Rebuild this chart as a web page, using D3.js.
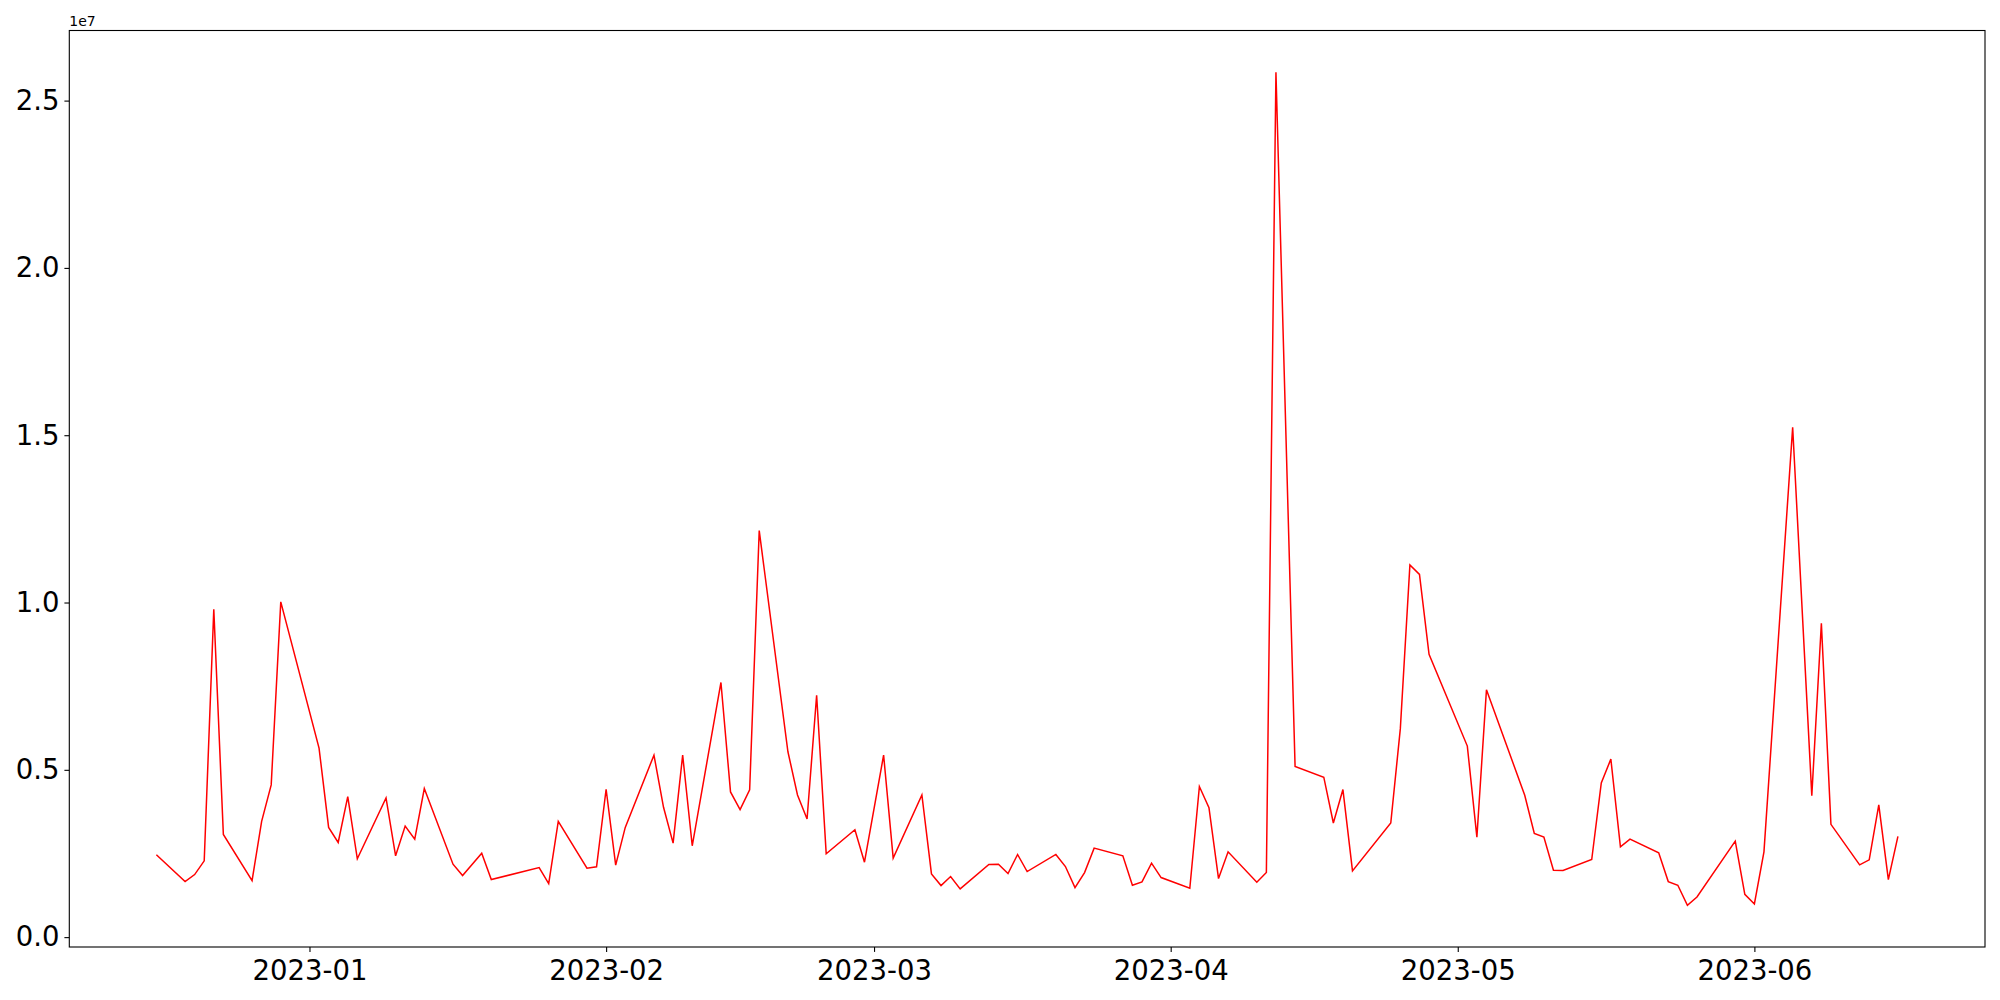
<!DOCTYPE html>
<html>
<head>
<meta charset="utf-8">
<script src="https://cdn.jsdelivr.net/npm/d3@7"></script>
<style>
  html, body { margin: 0; padding: 0; background: #fff; }
  svg { display: block; font-family: "DejaVu Sans", sans-serif; }
</style>
</head>
<body>
<svg id="chart" width="2000" height="1000"></svg>
<script>
// ---- data ----
const dates = [
  "2022-12-16","2022-12-19","2022-12-20","2022-12-21","2022-12-22","2022-12-23","2022-12-26","2022-12-27","2022-12-28","2022-12-29",
  "2023-01-02","2023-01-03","2023-01-04","2023-01-05","2023-01-06","2023-01-09","2023-01-10","2023-01-11","2023-01-12","2023-01-13",
  "2023-01-16","2023-01-17","2023-01-19","2023-01-20","2023-01-25","2023-01-26","2023-01-27","2023-01-30","2023-01-31",
  "2023-02-01","2023-02-02","2023-02-03","2023-02-06","2023-02-07","2023-02-08","2023-02-09","2023-02-10","2023-02-13","2023-02-14",
  "2023-02-15","2023-02-16","2023-02-17","2023-02-20","2023-02-21","2023-02-22","2023-02-23","2023-02-24","2023-02-27","2023-02-28",
  "2023-03-02","2023-03-03","2023-03-06","2023-03-07","2023-03-08","2023-03-09","2023-03-10","2023-03-13","2023-03-14","2023-03-15",
  "2023-03-16","2023-03-17","2023-03-20","2023-03-21","2023-03-22","2023-03-23","2023-03-24","2023-03-27","2023-03-28","2023-03-29",
  "2023-03-30","2023-03-31","2023-04-03","2023-04-04","2023-04-05","2023-04-06","2023-04-07","2023-04-10","2023-04-11","2023-04-12",
  "2023-04-14","2023-04-17","2023-04-18","2023-04-19","2023-04-20","2023-04-24","2023-04-25","2023-04-26","2023-04-27","2023-04-28",
  "2023-05-02","2023-05-03","2023-05-04","2023-05-08","2023-05-09","2023-05-10","2023-05-11","2023-05-12","2023-05-15","2023-05-16",
  "2023-05-17","2023-05-18","2023-05-19","2023-05-22","2023-05-23","2023-05-24","2023-05-25","2023-05-26","2023-05-30","2023-05-31",
  "2023-06-01","2023-06-02","2023-06-05","2023-06-07","2023-06-08","2023-06-09","2023-06-12","2023-06-13","2023-06-14","2023-06-15",
  "2023-06-16"
];
// values in millions
const valuesM = [
  2.46,1.66,1.87,2.28,9.80,3.07,1.69,3.46,4.55,10.02,
  5.65,3.28,2.83,4.20,2.34,4.16,2.43,3.32,2.93,4.44,
  2.18,1.84,2.51,1.72,2.08,1.60,3.46,2.06,2.10,
  4.42,2.15,3.28,5.44,3.88,2.81,5.44,2.73,7.61,4.34,
  3.81,4.40,12.15,5.54,4.25,3.53,7.23,2.49,3.21,2.24,
  5.44,2.36,4.25,1.89,1.54,1.81,1.44,2.17,2.18,1.90,
  2.47,1.96,2.47,2.11,1.48,1.93,2.66,2.43,1.55,1.65,
  2.21,1.78,1.46,4.50,3.87,1.75,2.55,1.64,1.93,25.85,
  5.10,4.78,3.41,4.41,1.98,3.41,6.23,11.12,10.84,8.45,
  5.71,2.99,7.39,4.24,3.10,2.99,2.00,1.99,2.32,4.61,
  5.32,2.70,2.93,2.52,1.66,1.55,0.95,1.20,2.87,1.28,
  0.99,2.55,15.24,4.23,9.38,3.37,2.16,2.31,3.95,1.72,
  3.01
];
const xTickDates = ["2023-01-01","2023-02-01","2023-03-01","2023-04-01","2023-05-01","2023-06-01"];
const xTickLabels = ["2023-01","2023-02","2023-03","2023-04","2023-05","2023-06"];
const yTickValues = [0, 5e6, 1e7, 1.5e7, 2e7, 2.5e7];
const yTickLabels = ["0.0","0.5","1.0","1.5","2.0","2.5"];
const offsetLabel = "1e7";

// ---- layout ----
const svg = d3.select("#chart");
const L = 69.3, R = 1985, T = 30.5, B = 947;
const parse = d3.utcParse("%Y-%m-%d");
const data = dates.map((d, i) => ({ date: parse(d), value: valuesM[i] * 1e6 }));

const xExt = d3.extent(data, d => d.date);
const xSpan = xExt[1] - xExt[0];
const x = d3.scaleUtc()
  .domain([new Date(+xExt[0] - 0.05 * xSpan), new Date(+xExt[1] + 0.05 * xSpan)])
  .range([L, R]);

const yExt = d3.extent(data, d => d.value);
const ySpan = yExt[1] - yExt[0];
const y = d3.scaleLinear()
  .domain([yExt[0] - 0.05 * ySpan, yExt[1] + 0.05 * ySpan])
  .range([B, T]);

const tickLen = 4.9;
const fontSize = 27.5;

// x axis
const xAxis = d3.axisBottom(x)
  .tickValues(xTickDates.map(parse))
  .tickFormat((d, i) => xTickLabels[i])
  .tickSize(tickLen)
  .tickPadding(8.5);
const gx = svg.append("g").attr("transform", `translate(0,${B})`).call(xAxis);
gx.select(".domain").remove();
gx.selectAll(".tick line").attr("stroke", "#000").attr("stroke-width", 1.1);
gx.selectAll(".tick text").attr("fill", "#000").style("font-size", fontSize + "px")
  .style("font-family", "'DejaVu Sans', sans-serif");

// y axis
const yAxis = d3.axisLeft(y)
  .tickValues(yTickValues)
  .tickFormat((d, i) => yTickLabels[i])
  .tickSize(tickLen)
  .tickPadding(5);
const gy = svg.append("g").attr("transform", `translate(${L},0)`).call(yAxis);
gy.select(".domain").remove();
gy.selectAll(".tick line").attr("stroke", "#000").attr("stroke-width", 1.1);
gy.selectAll(".tick text").attr("fill", "#000").style("font-size", fontSize + "px")
  .style("font-family", "'DejaVu Sans', sans-serif");

// offset text
svg.append("text")
  .attr("x", L).attr("y", 25.5)
  .attr("fill", "#000")
  .style("font-size", "14px")
  .style("font-family", "'DejaVu Sans', sans-serif")
  .text(offsetLabel);

// line
const line = d3.line().x(d => x(d.date)).y(d => y(d.value));
svg.append("path")
  .datum(data)
  .attr("fill", "none")
  .attr("stroke", "#ff0000")
  .attr("stroke-width", 1.5)
  .attr("stroke-linejoin", "miter")
  .attr("d", line);

// frame
svg.append("rect")
  .attr("x", L).attr("y", T)
  .attr("width", R - L).attr("height", B - T)
  .attr("fill", "none")
  .attr("stroke", "#000")
  .attr("stroke-width", 1.1);
</script>
</body>
</html>
